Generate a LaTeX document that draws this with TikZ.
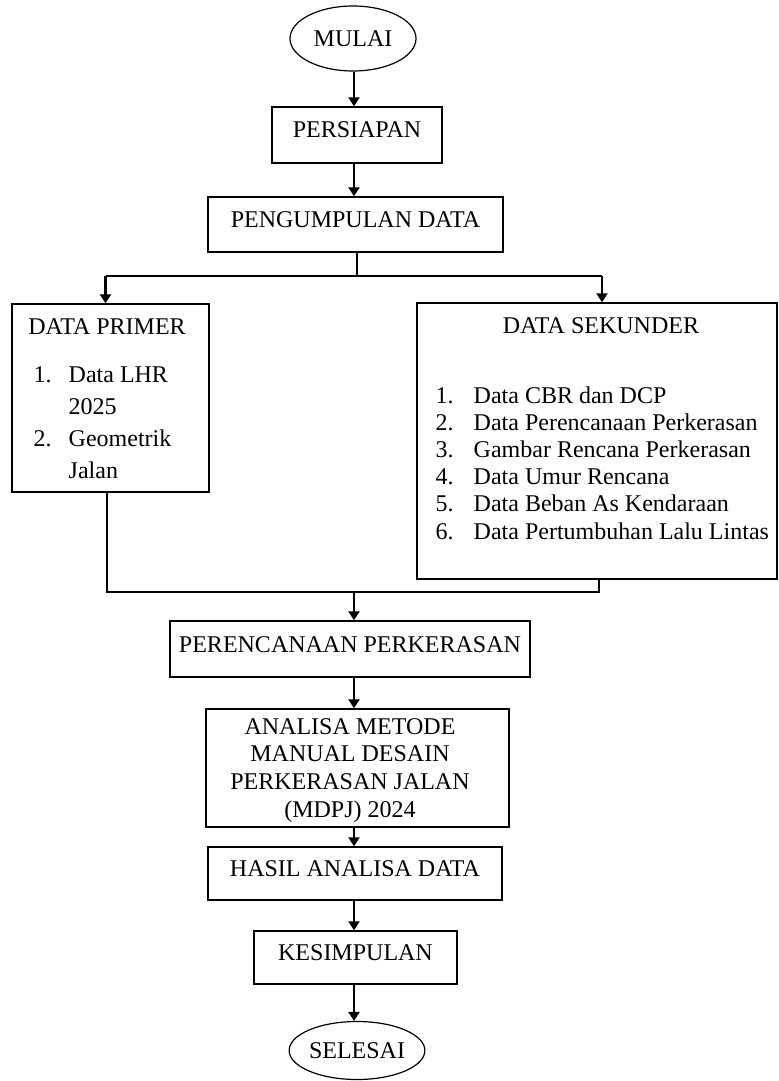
\documentclass[tikz,border=0pt]{standalone}
\usepackage{fontspec}
\setmainfont{Liberation Serif}
\usetikzlibrary{shapes.geometric,arrows.meta}

\begin{document}
\begin{tikzpicture}[x=0.5pt, y=-0.5pt,
                    line width=0.7pt,
                    font=\fontsize{12}{14}\selectfont]
    \tikzstyle{terminal}=[ellipse, draw, line width=0.6pt, inner sep=0pt, minimum width=63pt]
    \tikzstyle{process}=[rectangle, draw, inner sep=0pt, text height=9pt, text depth=6pt]
    \tikzstyle{panel}=[rectangle, draw, inner sep=0pt]
    \tikzstyle{flow}=[-{Triangle[length=4.5pt,width=5.5pt]}, line width=1.2pt]
    \tikzstyle{link}=[line width=0.7pt]

    \useasboundingbox (0,0) rectangle (779,1081);
    \coordinate (sumbu) at (354,0);

    \node[terminal, minimum height=32.5pt] (mulai) at (353,38.5) {MULAI};
    \node[process, minimum width=85pt, minimum height=28pt] (persiapan) at (357,135) {PERSIAPAN};
    \node[process, minimum width=147.5pt, minimum height=27.5pt] (pengumpulan) at (355.5,224.5) {PENGUMPULAN DATA};

    \node[panel, minimum width=98.5pt, minimum height=94pt] (primer) at (110.5,398) {};
    \node[anchor=base] (primerjudul) at (107,334) {DATA PRIMER};
    \node[anchor=base west, inner sep=0pt, font=\fontsize{12}{16}\selectfont] (primerisi) at (33,382)
        {\begin{tabular}[t]{@{}p{17.5pt}@{}l@{}}
            1. & Data LHR\\
               & 2025\\
            2. & Geometrik\\
               & Jalan
         \end{tabular}};

    \node[panel, minimum width=180pt, minimum height=138pt] (sekunder) at (597,441) {};
    \node[anchor=base] (sekunderjudul) at (601,333) {DATA SEKUNDER};
    \node[anchor=base west, inner sep=0pt, font=\fontsize{12}{13.6}\selectfont] (sekunderisi) at (435,403)
        {\begin{tabular}[t]{@{}p{19pt}@{}l@{}}
            1. & Data CBR dan DCP\\
            2. & Data Perencanaan Perkerasan\\
            3. & Gambar Rencana Perkerasan\\
            4. & Data Umur Rencana\\
            5. & Data Beban As Kendaraan\\
            6. & Data Pertumbuhan Lalu Lintas
         \end{tabular}};

    \node[process, minimum width=180pt, minimum height=28pt] (perencanaan) at (350,649) {PERENCANAAN PERKERASAN};
    \node[panel, minimum width=151.5pt, minimum height=59pt] (analisa) at (357.5,768) {};
    \node[align=center, inner sep=0pt, font=\fontsize{12}{13.9}\selectfont] (analisateks) at (350,770.5)
        {ANALISA METODE\\MANUAL DESAIN\\PERKERASAN JALAN\\(MDPJ) 2024};
    \node[process, minimum width=147pt, minimum height=26.5pt] (hasil) at (355,873.5) {HASIL ANALISA DATA};
    \node[process, minimum width=101.5pt, minimum height=26.5pt] (kesimpulan) at (355.5,957.5) {KESIMPULAN};
    \node[terminal, minimum height=29pt] (selesai) at (357,1050.5) {SELESAI};

    \draw[flow] (mulai.south -| sumbu) -- (persiapan.north -| sumbu);
    \draw[flow] (persiapan.south -| sumbu) -- (pengumpulan.north -| sumbu);

    \coordinate (pecah) at (357,276);
    \coordinate (pecahkiri) at (105.5,276);
    \coordinate (pecahkanan) at (602,276);
    \draw[link] (pecah |- pengumpulan.south) -- (pecah);
    \draw[link] (pecahkiri) -- (pecahkanan);
    \draw[flow] (pecahkiri) -- (pecahkiri |- primer.north);
    \draw[flow] (pecahkanan) -- (pecahkanan |- sekunder.north);

    \coordinate (gabungkiri) at (107,592);
    \coordinate (gabungkanan) at (599,592);
    \draw[link] (gabungkiri |- primer.south) -- (gabungkiri) -- (gabungkanan) -- (gabungkanan |- sekunder.south);
    \draw[flow] (gabungkiri -| sumbu) -- (perencanaan.north -| sumbu);

    \draw[flow] (perencanaan.south -| sumbu) -- (analisa.north -| sumbu);
    \draw[flow] (analisa.south -| sumbu) -- (hasil.north -| sumbu);
    \draw[flow] (hasil.south -| sumbu) -- (kesimpulan.north -| sumbu);
    \draw[flow] (kesimpulan.south -| sumbu) -- (selesai.north -| sumbu);
\end{tikzpicture}
\end{document}
